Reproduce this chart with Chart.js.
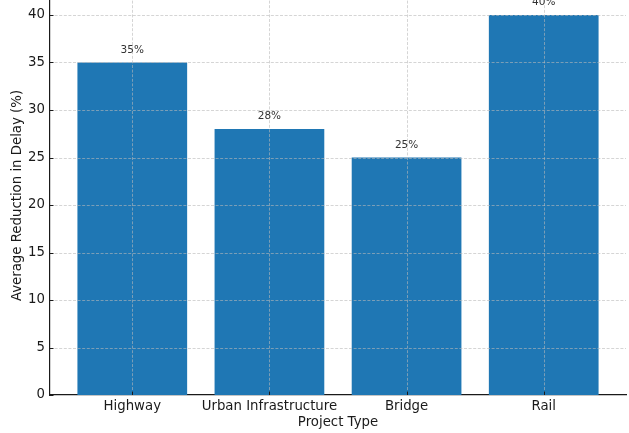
<!DOCTYPE html>
<html>
<head>
<meta charset="utf-8">
<script src="https://cdn.jsdelivr.net/npm/chart.js@4.4.1/dist/chart.umd.min.js"></script>
<style>
  html, body { margin: 0; padding: 0; background: #ffffff; overflow: hidden; width: 629px; height: 433px; }
  #wrap { position: absolute; left: 0; top: -20px; width: 629px; height: 453px; }
</style>
</head>
<body>
<div id="wrap"><canvas id="chart" width="629" height="453"></canvas></div>
<script>
// Average delay reduction by project type
const categories = ["Highway", "Urban Infrastructure", "Bridge", "Rail"];
const reductionPct = [35, 28, 25, 40];
const yTickValues = [0, 5, 10, 15, 20, 25, 30, 35, 40];
const xTickValues = [0, 1, 2, 3];

const FONT = "'DejaVu Sans', 'Liberation Sans', sans-serif";
const TEXT = "#1a1a1a";
const BAR = "#1f77b4";
const SIZE = 13.3;

// Dashed grid, inward tick marks and value labels, drawn above the bars
const overlay = {
  id: "overlay",
  afterDatasetsDraw(chart) {
    const { ctx, chartArea: a, scales: { x, y } } = chart;
    ctx.save();
    ctx.strokeStyle = "rgba(185,185,185,0.75)";
    ctx.lineWidth = 0.8;
    ctx.setLineDash([3, 1.6]);
    yTickValues.forEach(v => {
      const py = Math.round(y.getPixelForValue(v)) + 0.5;
      if (v === 0) return;
      ctx.beginPath(); ctx.moveTo(a.left, py); ctx.lineTo(a.right, py); ctx.stroke();
    });
    xTickValues.forEach(v => {
      const px = Math.round(x.getPixelForValue(v)) + 0.5;
      ctx.beginPath(); ctx.moveTo(px, a.top); ctx.lineTo(px, a.bottom); ctx.stroke();
    });
    ctx.setLineDash([]);
    ctx.strokeStyle = TEXT;
    ctx.lineWidth = 1;
    yTickValues.forEach(v => {
      const py = Math.round(y.getPixelForValue(v)) + 0.5;
      ctx.beginPath(); ctx.moveTo(a.left, py); ctx.lineTo(a.left + 3.5, py); ctx.stroke();
    });
    xTickValues.forEach(v => {
      const px = Math.round(x.getPixelForValue(v)) + 0.5;
      ctx.beginPath(); ctx.moveTo(px, a.bottom); ctx.lineTo(px, a.bottom - 3.5); ctx.stroke();
    });
    ctx.fillStyle = "#333333";
    ctx.font = "10.5px " + FONT;
    ctx.textAlign = "center";
    ctx.textBaseline = "middle";
    reductionPct.forEach((v, i) => {
      ctx.fillText(v + "%", x.getPixelForValue(i), y.getPixelForValue(v) - 12.5);
    });
    ctx.restore();
  }
};

new Chart(document.getElementById("chart"), {
  type: "bar",
  data: {
    datasets: [{
      data: reductionPct.map((v, i) => ({ x: i, y: v })),
      backgroundColor: BAR,
      borderWidth: 0,
      barPercentage: 0.8,
      categoryPercentage: 1.0
    }]
  },
  options: {
    responsive: false,
    animation: false,
    devicePixelRatio: 1,
    layout: { padding: { top: 16, right: 3, left: 0, bottom: 0 } },
    plugins: { legend: { display: false }, tooltip: { enabled: false } },
    scales: {
      x: {
        type: "linear",
        offset: false,
        min: -0.6,
        max: 3.6,
        afterBuildTicks: s => { s.ticks = xTickValues.map(v => ({ value: v })); },
        afterFit: s => { s.height = 38; },
        ticks: {
          autoSkip: false,
          maxRotation: 0,
          padding: 4,
          color: TEXT,
          font: { family: FONT, size: SIZE },
          callback: v => categories[v]
        },
        grid: { display: false, drawTicks: false },
        border: { display: true, color: TEXT, width: 1.2 },
        title: {
          display: true,
          text: "Project Type",
          color: TEXT,
          font: { family: FONT, size: SIZE },
          padding: { top: 0, bottom: 2 }
        }
      },
      y: {
        min: 0,
        max: 42,
        afterBuildTicks: s => { s.ticks = yTickValues.map(v => ({ value: v })); },
        afterFit: s => { s.width = 50; },
        ticks: {
          padding: 5,
          color: TEXT,
          font: { family: FONT, size: SIZE }
        },
        grid: { display: false, drawTicks: false },
        border: { display: true, color: TEXT, width: 1.2 },
        title: {
          display: true,
          text: "Average Reduction in Delay (%)",
          color: TEXT,
          font: { family: FONT, size: SIZE },
          padding: { top: 10, bottom: 0 }
        }
      }
    }
  },
  plugins: [overlay]
});
</script>
</body>
</html>
